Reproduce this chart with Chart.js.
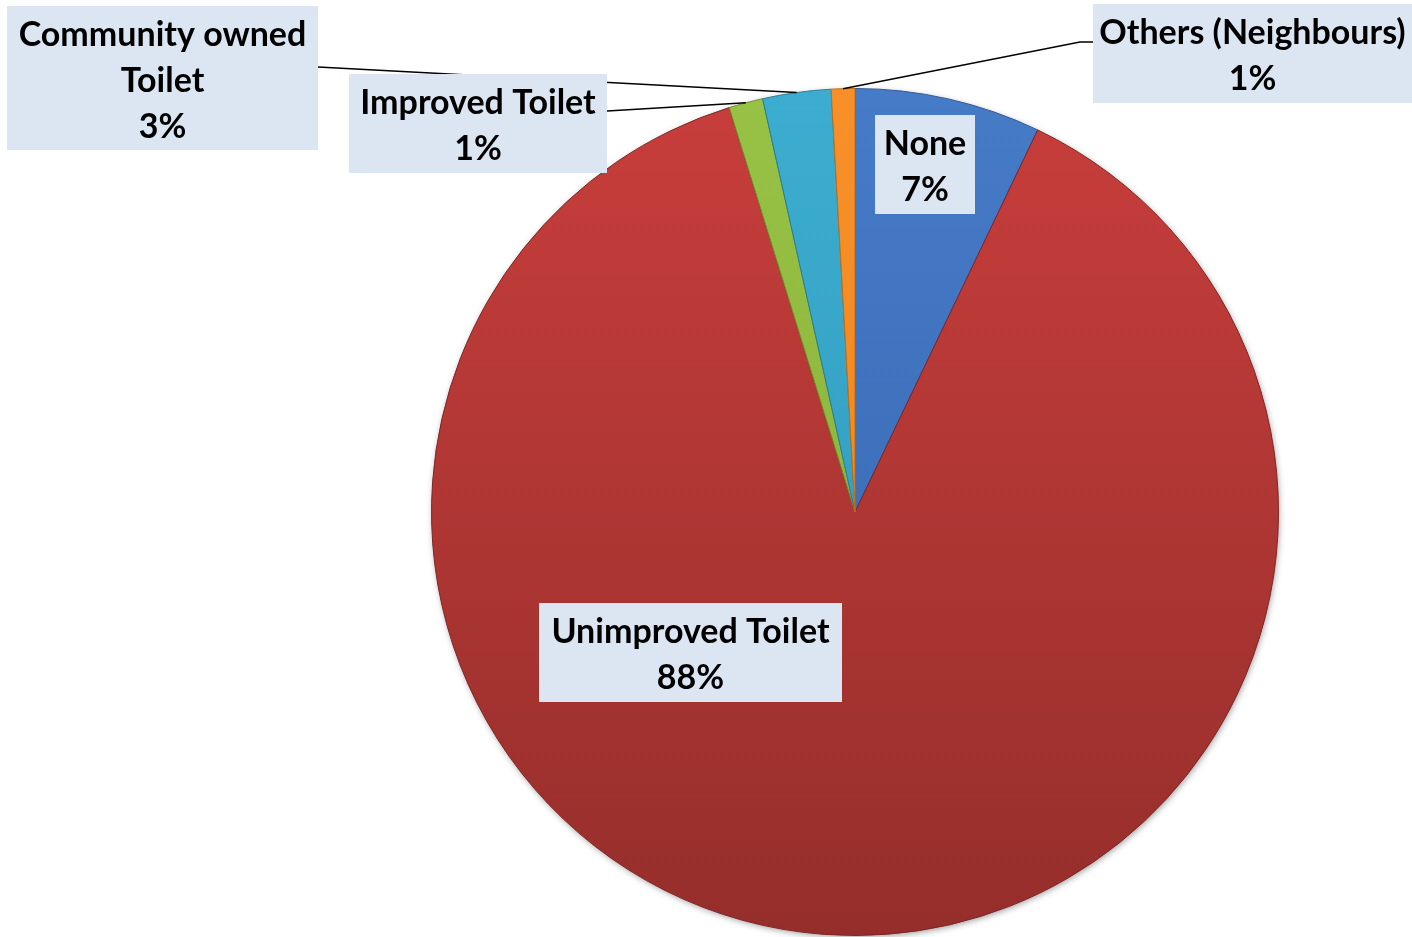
<!DOCTYPE html>
<html>
<head>
<meta charset="utf-8">
<script src="https://cdn.jsdelivr.net/npm/chart.js@4.4.0/dist/chart.umd.min.js"></script>
<style>
  html, body { margin: 0; padding: 0; background: #fff; }
  #wrap { width: 1412px; height: 937px; position: relative; }
</style>
</head>
<body>
<div id="wrap"><canvas id="pie"></canvas></div>
<script>
// Daten
const categories = ['None', 'Unimproved Toilet', 'Improved Toilet', 'Community owned Toilet', 'Others (Neighbours)'];
const shares = [7.1, 88.1, 1.3, 2.6, 0.9];
const labelLines = [['None'], ['Unimproved Toilet'], ['Improved Toilet'], ['Community owned', 'Toilet'], ['Others (Neighbours)']];

// Farben (oben hell, unten dunkel)
const topColors = ['#467bc8', '#c83e3c', '#98c245', '#3cadd0', '#f8902a'];
const bottomColors = ['#3565ad', '#952e2b', '#84ac36', '#2d96b7', '#ec8217'];
const edgeColors = ['#2f5b98', '#7f2624', '#6f8f2c', '#277f9a', '#c86d10'];

// Label-Boxen: x, y, w, h ; Linie: Startpunkt(e)
const boxes = [
  { x: 875, y: 115, w: 100, h: 99 },
  { x: 539, y: 603, w: 303, h: 99 },
  { x: 349, y: 74, w: 258, h: 99, line: [[607, 111]] },
  { x: 7, y: 6, w: 311, h: 144, line: [[318, 67]] },
  { x: 1093, y: 4, w: 319, h: 99, line: [[1093, 42], [1080, 42]] }
];

const total = shares.reduce((a, b) => a + b, 0);

function sliceFill(ctx) {
  const chart = ctx.chart;
  const area = chart.chartArea;
  if (!area) return topColors[ctx.dataIndex];
  const g = chart.ctx.createLinearGradient(0, area.top, 0, area.bottom);
  g.addColorStop(0, topColors[ctx.dataIndex]);
  g.addColorStop(1, bottomColors[ctx.dataIndex]);
  return g;
}

const shadowPlugin = {
  id: 'pieShadow',
  beforeDatasetsDraw(chart) {
    const arc = chart.getDatasetMeta(0).data[0];
    if (!arc) return;
    const c = chart.ctx;
    c.save();
    c.shadowColor = 'rgba(0,0,0,0.45)';
    c.shadowBlur = 7;
    c.shadowOffsetX = 1;
    c.shadowOffsetY = 2;
    c.fillStyle = '#7a2422';
    c.beginPath();
    c.arc(arc.x, arc.y, arc.outerRadius - 1, 0, Math.PI * 2);
    c.fill();
    c.restore();
  }
};

const labelPlugin = {
  id: 'boxLabels',
  afterDraw(chart) {
    const c = chart.ctx;
    const arcs = chart.getDatasetMeta(0).data;
    c.save();
    // Leader lines
    c.strokeStyle = '#000';
    c.lineWidth = 1.5;
    boxes.forEach((b, i) => {
      if (!b.line) return;
      const p = arcs[i].getProps(['x', 'y', 'startAngle', 'endAngle', 'outerRadius'], true);
      const mid = (p.startAngle + p.endAngle) / 2;
      const ex = p.x + Math.cos(mid) * p.outerRadius;
      const ey = p.y + Math.sin(mid) * p.outerRadius;
      c.beginPath();
      c.moveTo(b.line[0][0], b.line[0][1]);
      for (let k = 1; k < b.line.length; k++) c.lineTo(b.line[k][0], b.line[k][1]);
      c.lineTo(ex, ey);
      c.stroke();
    });
    // Boxes + text
    c.font = 'bold 34px Lato, "Open Sans", sans-serif';
    c.textAlign = 'center';
    c.textBaseline = 'middle';
    boxes.forEach((b, i) => {
      c.fillStyle = '#dce6f2';
      c.fillRect(b.x, b.y, b.w, b.h);
      const lines = labelLines[i].concat([Math.round(shares[i] / total * 100) + '%']);
      c.fillStyle = '#000';
      const cx = b.x + b.w / 2;
      lines.forEach((t, k) => c.fillText(t, cx, b.y + 29 + k * 46));
    });
    c.restore();
  }
};

new Chart(document.getElementById('pie'), {
  type: 'pie',
  data: {
    labels: categories,
    datasets: [{
      data: shares,
      backgroundColor: sliceFill,
      borderColor: edgeColors,
      borderWidth: 1
    }]
  },
  options: {
    responsive: true,
    maintainAspectRatio: false,
    animation: false,
    layout: { padding: { left: 298, right: 0, top: 88, bottom: 1 } },
    plugins: {
      legend: { display: false },
      tooltip: { enabled: false }
    }
  },
  plugins: [shadowPlugin, labelPlugin]
});
</script>
</body>
</html>
